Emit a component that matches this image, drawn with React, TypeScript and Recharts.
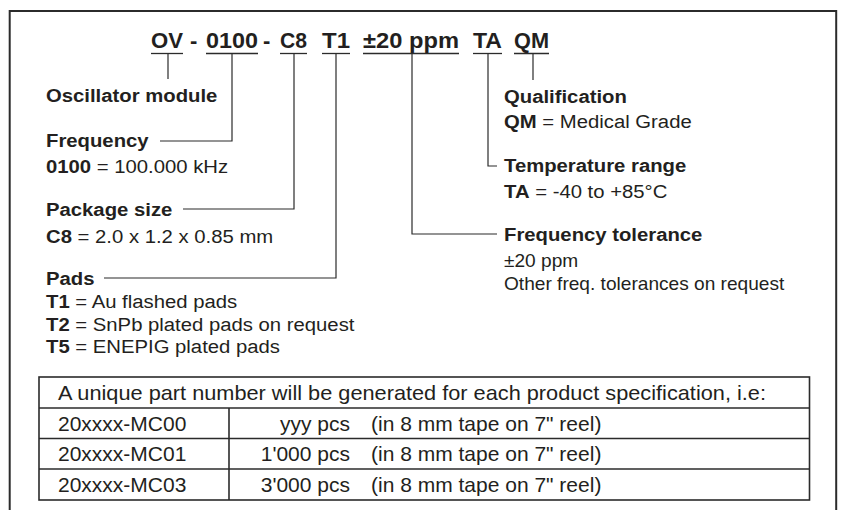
import React from 'react';
import { LineChart, Customized } from 'recharts';

// ---------- data ----------
const codeLabels = ['OV', '0100', 'C8', 'T1', '±20 ppm', 'TA', 'QM'];
const codeSeparators = ['-', '-'];
const fieldTitles = ['Oscillator module', 'Frequency', 'Package size', 'Pads', 'Frequency tolerance', 'Temperature range', 'Qualification'];
const frequencyOptions = [['0100', ' = 100.000 kHz']];
const packageOptions = [['C8', ' = 2.0 x 1.2 x 0.85 mm']];
const padOptions = [
  ['T1', ' = Au flashed pads'],
  ['T2', ' = SnPb plated pads on request'],
  ['T5', ' = ENEPIG plated pads'],
];
const qualificationOptions = [['QM', ' = Medical Grade']];
const temperatureOptions = [['TA', ' = -40 to +85°C']];
const toleranceNotes = ['±20 ppm', 'Other freq. tolerances on request'];
const tableCaption = 'A unique part number will be generated for each product specification, i.e:';
const tablePartNumbers = ['20xxxx-MC00', '20xxxx-MC01', '20xxxx-MC03'];
const tableQuantities = ['yyy pcs', "1'000 pcs", "3'000 pcs"];
const tablePackaging = ['(in 8 mm tape on 7" reel)', '(in 8 mm tape on 7" reel)', '(in 8 mm tape on 7" reel)'];

// ---------- layout / style ----------
const INK = '#231f20';
const LINE = '#2b2b2b';
const FONT = '"Liberation Sans", Arial, Helvetica, sans-serif';
const W = 843;
const H = 510;

const codeX = [151, 206, 280, 322, 363, 473, 514];
const codeW = [32, 52, 27, 28, 96, 29, 35];
const sepX = [190, 263];
const codeBase = 48;
const underlineY = 53.5;
const connX = [168, 232, 294, 336, 412, 488, 533];
// end of each connector: vertical end y, horizontal end x (null = none)
const connEndY = [79, 141, 209, 278, 234, 166, 80];
const connEndX: (number | null)[] = [null, 160, 183, 104, 497, 497, null];

const leftX = 46;
const rightX = 504;
const SX = 1.08;
const TITLE_SIZE = 18.8;
const OPTION_SIZE = 18.8;
const NOTE_SIZE = 17.7;

type Part = { t: string; b?: boolean };

function Label({ x, y, parts, size, sx = 1, anchor = 'start', len }: { x: number; y: number; parts: Part[]; size: number; sx?: number; anchor?: string; len?: number }) {
  return (
    <text
      transform={`translate(${x},${y}) scale(${sx},1)`}
      fontFamily={FONT}
      fontSize={size}
      fill={INK}
      textAnchor={anchor}
      style={{ whiteSpace: 'pre' }}
      {...(len ? { textLength: len, lengthAdjust: 'spacingAndGlyphs' } : {})}
    >
      {parts.map((p, i) => (
        <tspan key={i} fontWeight={p.b ? 700 : 400}>{p.t}</tspan>
      ))}
    </text>
  );
}

function Diagram() {
  const els: React.ReactNode[] = [];
  // outer frame
  els.push(<rect key="frame" x={9.7} y={11} width={826.5} height={530} fill="none" stroke={LINE} strokeWidth={2} />);

  // header codes
  codeLabels.forEach((c, i) => {
    els.push(
      <text key={'c' + i} x={codeX[i]} y={codeBase} fontFamily={FONT} fontSize={22} fontWeight={700} fill={INK}
        textLength={codeW[i]} lengthAdjust="spacingAndGlyphs" style={{ whiteSpace: 'pre' }}>{c}</text>
    );
    els.push(<line key={'u' + i} x1={codeX[i]} x2={codeX[i] + codeW[i]} y1={underlineY} y2={underlineY} stroke={LINE} strokeWidth={1.3} />);
    const pts = connEndX[i] === null
      ? `${connX[i]},${underlineY} ${connX[i]},${connEndY[i]}`
      : `${connX[i]},${underlineY} ${connX[i]},${connEndY[i]} ${connEndX[i]},${connEndY[i]}`;
    els.push(<polyline key={'l' + i} points={pts} fill="none" stroke={LINE} strokeWidth={1.2} />);
  });
  codeSeparators.forEach((s, i) => {
    els.push(<text key={'s' + i} x={sepX[i]} y={codeBase} fontFamily={FONT} fontSize={22} fontWeight={700} fill={INK}>{s}</text>);
  });

  // left descriptions
  els.push(<Label key="t0" x={leftX} y={102} size={TITLE_SIZE} sx={SX} parts={[{ t: fieldTitles[0], b: true }]} />);
  els.push(<Label key="t1" x={leftX} y={147} size={TITLE_SIZE} sx={SX} parts={[{ t: fieldTitles[1], b: true }]} />);
  frequencyOptions.forEach((o, i) => els.push(<Label key={'fo' + i} x={leftX} y={173 + i * 22.5} size={OPTION_SIZE} sx={SX} parts={[{ t: o[0], b: true }, { t: o[1] }]} />));
  els.push(<Label key="t2" x={leftX} y={216} size={TITLE_SIZE} sx={SX} parts={[{ t: fieldTitles[2], b: true }]} />);
  packageOptions.forEach((o, i) => els.push(<Label key={'po' + i} x={leftX} y={243 + i * 22.5} size={OPTION_SIZE} sx={SX} parts={[{ t: o[0], b: true }, { t: o[1] }]} />));
  els.push(<Label key="t3" x={leftX} y={285} size={TITLE_SIZE} sx={SX} parts={[{ t: fieldTitles[3], b: true }]} />);
  padOptions.forEach((o, i) => els.push(<Label key={'pd' + i} x={leftX} y={308 + i * 22.6} size={OPTION_SIZE} sx={SX} parts={[{ t: o[0], b: true }, { t: o[1] }]} />));

  // right descriptions
  els.push(<Label key="t6" x={rightX} y={103} size={TITLE_SIZE} sx={SX} parts={[{ t: fieldTitles[6], b: true }]} />);
  qualificationOptions.forEach((o, i) => els.push(<Label key={'qo' + i} x={rightX} y={128 + i * 22.5} size={OPTION_SIZE} sx={SX} parts={[{ t: o[0], b: true }, { t: o[1] }]} />));
  els.push(<Label key="t5" x={rightX} y={172} size={TITLE_SIZE} sx={SX} parts={[{ t: fieldTitles[5], b: true }]} />);
  temperatureOptions.forEach((o, i) => els.push(<Label key={'to' + i} x={rightX} y={198 + i * 22.5} size={OPTION_SIZE} sx={SX} parts={[{ t: o[0], b: true }, { t: o[1] }]} />));
  els.push(<Label key="t4" x={rightX} y={241} size={TITLE_SIZE} sx={SX} parts={[{ t: fieldTitles[4], b: true }]} />);
  toleranceNotes.forEach((n, i) => els.push(<Label key={'tn' + i} x={rightX} y={267 + i * 23} size={NOTE_SIZE} sx={SX} parts={[{ t: n }]} />));

  // table
  const tL = 39, tR = 809.5, cX = 229;
  const rowY = [377, 408, 438.5, 469, 500];
  els.push(<rect key="tbl" x={tL} y={rowY[0]} width={tR - tL} height={rowY[4] - rowY[0]} fill="none" stroke={LINE} strokeWidth={1.6} />);
  for (let r = 1; r < 4; r++) {
    els.push(<line key={'hr' + r} x1={tL} x2={tR} y1={rowY[r]} y2={rowY[r]} stroke={LINE} strokeWidth={1.6} />);
  }
  els.push(<line key="vc" x1={cX} x2={cX} y1={rowY[1]} y2={rowY[4]} stroke={LINE} strokeWidth={1.6} />);
  els.push(<Label key="cap" x={58} y={400} size={21} len={708} parts={[{ t: tableCaption }]} />);
  tablePartNumbers.forEach((p, i) => {
    const by = rowY[i + 1] + 22.5;
    els.push(<Label key={'pn' + i} x={58} y={by} size={21} parts={[{ t: p }]} />);
    els.push(<Label key={'q' + i} x={350} y={by} size={21} anchor="end" parts={[{ t: tableQuantities[i] }]} />);
    els.push(<Label key={'pk' + i} x={371} y={by} size={21} parts={[{ t: tablePackaging[i] }]} />);
  });

  return <g>{els}</g>;
}

export default function App() {
  return (
    <div style={{ position: 'absolute', left: 0, top: 0, width: W, height: H, background: '#fff' }}>
      <LineChart width={W} height={H} data={[]} margin={{ top: 0, right: 0, bottom: 0, left: 0 }}>
        <Customized component={Diagram} />
      </LineChart>
    </div>
  );
}
